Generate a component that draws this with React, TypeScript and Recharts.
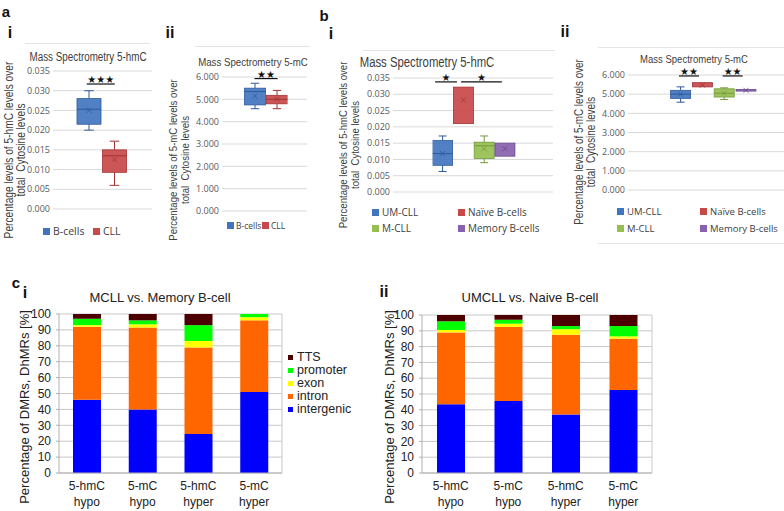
import React from "react";
import { BarChart, Bar, XAxis, YAxis, CartesianGrid, ReferenceLine } from "recharts";

// panel a: B-cells vs CLL
const aGroups = ["B-cells", "CLL"];
const aHmcMin = [0.02, 0.006];
const aHmcQ1 = [0.0215, 0.0093];
const aHmcMedian = [0.0253, 0.0135];
const aHmcQ3 = [0.028, 0.015];
const aHmcMax = [0.03, 0.0172];
const aHmcMean = [0.025, 0.0125];

const aMcMin = [4.58, 4.58];
const aMcQ1 = [4.75, 4.8];
const aMcMedian = [5.35, 5.0];
const aMcQ3 = [5.5, 5.18];
const aMcMax = [5.72, 5.4];
const aMcMean = [5.15, 5.0];

// panel b: subgroups
const bGroups = ["UM-CLL", "Naïve B-cells", "M-CLL", "Memory B-cells"];
const bHmcMin = [0.0063, 0.021, 0.009, 0.011];
const bHmcQ1 = [0.0082, 0.021, 0.0103, 0.011];
const bHmcMedian = [0.0118, null, 0.0142, null];
const bHmcQ3 = [0.0158, 0.0322, 0.0153, 0.015];
const bHmcMax = [0.0172, 0.0322, 0.0172, 0.015];
const bHmcMean = [0.0118, 0.0283, 0.0133, 0.0133];

const bMcMin = [4.58, 5.38, 4.72, 5.16];
const bMcQ1 = [4.78, 5.38, 4.85, 5.16];
const bMcMedian = [5.0, null, 5.05, null];
const bMcQ3 = [5.2, 5.6, 5.28, 5.24];
const bMcMax = [5.38, 5.6, 5.33, 5.24];
const bMcMean = [5.0, 5.47, 5.05, 5.2];

// significance bars (x in box index units, y in data units)
const aHmcSigFrom = [-0.08];
const aHmcSigTo = [1.02];
const aHmcSigY = [0.0317];
const aHmcSigStars = ["★★★"];
const aMcSigFrom = [0.0];
const aMcSigTo = [1.05];
const aMcSigY = [5.93];
const aMcSigStars = ["★★"];
const bHmcSigFrom = [-0.38, 0.87];
const bHmcSigTo = [0.67, 2.83];
const bHmcSigY = [0.0338, 0.0338];
const bHmcSigStars = ["★", "★"];
const bMcSigFrom = [-0.07, 1.93];
const bMcSigTo = [0.85, 2.85];
const bMcSigY = [5.95, 5.95];
const bMcSigStars = ["★★", "★★"];

const hmcTicks = [0, 0.005, 0.01, 0.015, 0.02, 0.025, 0.03, 0.035];
const mcTicks = [0, 1, 2, 3, 4, 5, 6];

// panel c: genomic distribution
const cCats = ["5-hmC hypo", "5-mC hypo", "5-hmC hyper", "5-mC hyper"];
const cSeries = ["intergenic", "intron", "exon", "promoter", "TTS"];
const cMemIntergenic = [46, 40, 24.5, 51];
const cMemIntron = [46, 51.5, 54.5, 45];
const cMemExon = [1, 2, 4, 2];
const cMemPromoter = [4, 2.5, 10, 2];
const cMemTts = [3, 4, 7, 0];
const cNaiIntergenic = [43.5, 45.5, 37, 52.5];
const cNaiIntron = [45.5, 47, 50.5, 32.5];
const cNaiExon = [1.5, 2, 3.5, 1.5];
const cNaiPromoter = [5.5, 2.5, 2, 6.5];
const cNaiTts = [4, 3, 7, 7];
const cTicks = [0, 10, 20, 30, 40, 50, 60, 70, 80, 90, 100];

const boxColors = ["#4275c0", "#c9494a", "#95bf4f", "#8862ae"];
const boxEdges = ["#2f5a9a", "#a13333", "#74993a", "#674690"];
const cColors = ["#0000ff", "#ff6600", "#ffff00", "#00ff00", "#4d0000"];

const arial = "'Liberation Sans', Arial, sans-serif";
const ui = "'Open Sans', 'Noto Sans', sans-serif";

function Note({ cx, cy, rotate, squeeze, style, children }: any) {
  let tf = "translate(-50%, -50%)";
  if (rotate) tf += " rotate(-90deg)";
  if (squeeze) tf += ` scaleX(${squeeze})`;
  return (
    <div
      style={{
        position: "absolute",
        left: cx,
        top: cy,
        transform: tf,
        whiteSpace: "nowrap",
        textAlign: "center",
        ...style,
      }}
    >
      {children}
    </div>
  );
}

function HLine({ x1, x2, y }: any) {
  return <div style={{ position: "absolute", left: x1, top: y, width: x2 - x1, height: 1, background: "#e4e4e4" }} />;
}

function makeBoxShape(groups: string[]) {
  return (p: any) => {
    const { x, y, width, height, payload } = p;
    const i = groups.indexOf(payload.name);
    const c = boxColors[i];
    const e = boxEdges[i];
    const top = Math.min(y, y + height);
    const bot = Math.max(y, y + height);
    const span = payload.max - payload.min;
    const py = (v: number) => (span ? bot - ((bot - top) * (v - payload.min)) / span : top);
    const cx = x + width / 2;
    const cap = width * 0.2;
    const yq3 = py(payload.q3);
    const yq1 = py(payload.q1);
    const ym = py(payload.mean);
    return (
      <g>
        {payload.max > payload.q3 && (
          <g stroke={e} strokeWidth={1}>
            <line x1={cx} x2={cx} y1={py(payload.max)} y2={yq3} />
            <line x1={cx - cap} x2={cx + cap} y1={py(payload.max)} y2={py(payload.max)} />
          </g>
        )}
        {payload.min < payload.q1 && (
          <g stroke={e} strokeWidth={1}>
            <line x1={cx} x2={cx} y1={yq1} y2={py(payload.min)} />
            <line x1={cx - cap} x2={cx + cap} y1={py(payload.min)} y2={py(payload.min)} />
          </g>
        )}
        <rect x={x} y={yq3} width={width} height={Math.max(yq1 - yq3, 1.5)} fill={c} fillOpacity={0.92} stroke={e} strokeWidth={0.8} />
        {payload.median != null && (
          <line x1={x} x2={x + width} y1={py(payload.median)} y2={py(payload.median)} stroke={e} strokeWidth={1} />
        )}
        <g stroke={e} strokeWidth={0.8}>
          <line x1={cx - 2.5} x2={cx + 2.5} y1={ym - 2.5} y2={ym + 2.5} />
          <line x1={cx - 2.5} x2={cx + 2.5} y1={ym + 2.5} y2={ym - 2.5} />
        </g>
      </g>
    );
  };
}

function BoxPanel(props: any) {
  const { left, top, width, height, margin, yWidth, padL, padR, barSize, groups, stats, yMax, yTicks, sig } = props;
  const rows = groups.map((name: string, i: number) => ({
    name,
    pos: i,
    min: stats.min[i],
    q1: stats.q1[i],
    median: stats.median[i],
    q3: stats.q3[i],
    max: stats.max[i],
    mean: stats.mean[i],
  }));
  return (
    <div style={{ position: "absolute", left, top }}>
      <BarChart width={width} height={height} data={rows} margin={margin}>
        <CartesianGrid vertical={false} stroke="#d9d9d9" />
        <XAxis
          type="number"
          dataKey="pos"
          domain={[-0.5, groups.length - 0.5]}
          padding={{ left: padL, right: padR }}
          allowDataOverflow
          hide
        />
        <YAxis
          width={yWidth}
          domain={[0, yMax]}
          ticks={yTicks}
          interval={0}
          tickFormatter={(v: number) => v.toFixed(3)}
          axisLine={false}
          tickLine={false}
          tickSize={0}
          tickMargin={3}
          tick={{ fontSize: 9, fill: "#595959", fontFamily: ui }}
        />
        <Bar
          dataKey={(d: any) => [d.min, d.max]}
          barSize={barSize}
          fill="#4275c0"
          isAnimationActive={false}
          shape={makeBoxShape(groups)}
        />
        {sig.from.map((f: number, k: number) => (
          <ReferenceLine
            key={k}
            segment={[
              { x: f, y: sig.y[k] },
              { x: sig.to[k], y: sig.y[k] },
            ]}
            stroke="#111"
            strokeWidth={1.2}
            ifOverflow="visible"
            label={{ value: sig.stars[k], position: "top", fontSize: 10, fill: "#111", offset: 1, fontFamily: "'DejaVu Sans'" }}
          />
        ))}
      </BarChart>
    </div>
  );
}

function BoxLegend({ items, colors, size }: any) {
  return (
    <>
      {items.map((it: any, k: number) => (
        <div key={k} style={{ position: "absolute", left: it.x, top: it.y - 7, height: 14, display: "flex", alignItems: "center", fontFamily: ui, fontSize: size, color: "#404040", whiteSpace: "nowrap" }}>
          <span style={{ display: "inline-block", width: 7, height: 7, background: colors[k], marginRight: it.gap }} />
          {it.label}
        </div>
      ))}
    </>
  );
}

function CatTick({ x, y, payload }: any) {
  const parts = String(payload.value).split(" ");
  return (
    <text x={x} y={y} textAnchor="middle" fontSize={12} fill="#222" fontFamily={arial}>
      <tspan x={x} dy="0.71em">{parts[0]}</tspan>
      <tspan x={x} dy="1.4em">{parts[1]}</tspan>
    </text>
  );
}

function StackPanel({ left, top, width, height, margin, yWidth, vals }: any) {
  const rows = cCats.map((name, i) => {
    const r: any = { name };
    cSeries.forEach((s, k) => (r[s] = vals[k][i]));
    return r;
  });
  return (
    <div style={{ position: "absolute", left, top }}>
      <BarChart width={width} height={height} data={rows} margin={margin}>
        <CartesianGrid vertical={false} stroke="#c8c8c8" />
        <XAxis dataKey="name" interval={0} height={38} tick={<CatTick />} axisLine={{ stroke: "#b0b0b0" }} tickLine={false} />
        <YAxis
          width={yWidth}
          domain={[0, 100]}
          ticks={cTicks}
          interval={0}
          axisLine={{ stroke: "#b0b0b0" }}
          tickLine={{ stroke: "#b0b0b0" }}
          tickSize={3}
          tickMargin={5}
          tick={{ fontSize: 12, fill: "#222", fontFamily: arial }}
        />
        <YAxis yAxisId="r" orientation="right" width={1} domain={[0, 100]} tick={false} tickLine={false} axisLine={{ stroke: "#c8c8c8" }} />
        {cSeries.map((s, k) => (
          <Bar key={s} dataKey={s} stackId="a" fill={cColors[k]} barSize={28} isAnimationActive={false} />
        ))}
      </BarChart>
    </div>
  );
}

export default function App() {
  const letter = { fontFamily: arial, fontWeight: 700, fontSize: 15, color: "#111" };
  const roman = { fontFamily: arial, fontWeight: 700, fontSize: 16, color: "#111" };
  const title = { fontFamily: arial, fontSize: 12, color: "#404040" };
  const ylab = { fontFamily: arial, fontSize: 12, color: "#404040", lineHeight: "11.5px" };
  const cText = { fontFamily: arial, color: "#222" };
  return (
    <div style={{ position: "absolute", left: 0, top: 0, width: 784, height: 511, background: "#fff", overflow: "hidden" }}>
      <Note cx={6} cy={11} style={letter}>a</Note>
      <Note cx={10} cy={33} style={roman}>i</Note>
      <Note cx={170} cy={33} style={roman}>ii</Note>
      <Note cx={324} cy={15} style={letter}>b</Note>
      <Note cx={331} cy={34} style={roman}>i</Note>
      <Note cx={565} cy={32} style={roman}>ii</Note>
      <Note cx={16} cy={282} style={letter}>c</Note>
      <Note cx={25} cy={293} style={roman}>i</Note>
      <Note cx={384} cy={292} style={roman}>ii</Note>

      <HLine x1={25} x2={150} y={43} />
      <HLine x1={195} x2={310} y={46} />
      <HLine x1={363} x2={555} y={50} />
      <HLine x1={598} x2={784} y={47} />
      <HLine x1={598} x2={784} y={243} />

      {/* a i */}
      <Note cx={88} cy={57} squeeze={0.82} style={title}>Mass Spectrometry 5-hmC</Note>
      <Note cx={15} cy={150} rotate squeeze={0.82} style={{ ...ylab, fontSize: 12.4 }}>
        Percentage levels of 5-hmC levels over
        <br />
        total&nbsp;&nbsp;Cytosine levels
      </Note>
      <BoxPanel
        left={0}
        top={45}
        width={155}
        height={175}
        margin={{ top: 26, right: 3, left: 0, bottom: 11 }}
        yWidth={53}
        padL={23}
        padR={25}
        barSize={24}
        groups={aGroups}
        stats={{ min: aHmcMin, q1: aHmcQ1, median: aHmcMedian, q3: aHmcQ3, max: aHmcMax, mean: aHmcMean }}
        yMax={0.035}
        yTicks={hmcTicks}
        sig={{ from: aHmcSigFrom, to: aHmcSigTo, y: aHmcSigY, stars: aHmcSigStars }}
      />
      <BoxLegend
        colors={boxColors}
        size={10.5}
        items={[
          { label: aGroups[0], x: 43, y: 231, gap: 3 },
          { label: aGroups[1], x: 93, y: 231, gap: 3 },
        ]}
      />

      {/* a ii */}
      <Note cx={253} cy={62} squeeze={0.82} style={{ ...title, fontSize: 11.8 }}>Mass Spectrometry 5-mC</Note>
      <Note cx={178} cy={160} rotate squeeze={0.82} style={{ ...ylab, fontSize: 11.7 }}>
        Percentage levels of 5-mC levels over
        <br />
        total&nbsp;&nbsp;Cytosine levels
      </Note>
      <BoxPanel
        left={165}
        top={45}
        width={145}
        height={175}
        margin={{ top: 32, right: 3, left: 0, bottom: 9 }}
        yWidth={57}
        padL={21.5}
        padR={19.5}
        barSize={21}
        groups={aGroups}
        stats={{ min: aMcMin, q1: aMcQ1, median: aMcMedian, q3: aMcQ3, max: aMcMax, mean: aMcMean }}
        yMax={6}
        yTicks={mcTicks}
        sig={{ from: aMcSigFrom, to: aMcSigTo, y: aMcSigY, stars: aMcSigStars }}
      />
      <BoxLegend
        colors={boxColors}
        size={8.5}
        items={[
          { label: aGroups[0], x: 227, y: 225, gap: 2 },
          { label: aGroups[1], x: 262, y: 225, gap: 2 },
        ]}
      />

      {/* b i */}
      <Note cx={427} cy={62} squeeze={0.82} style={{ ...title, fontSize: 13.8 }}>Mass Spectrometry 5-hmC</Note>
      <Note cx={348} cy={145} rotate squeeze={0.82} style={{ ...ylab, fontSize: 11.7 }}>
        Percentage levels of 5-hmC levels over
        <br />
        total&nbsp;&nbsp;Cytosine levels
      </Note>
      <BoxPanel
        left={335}
        top={45}
        width={222}
        height={160}
        margin={{ top: 33, right: 4, left: 0, bottom: 13 }}
        yWidth={58}
        padL={39.6}
        padR={37.2}
        barSize={20}
        groups={bGroups}
        stats={{ min: bHmcMin, q1: bHmcQ1, median: bHmcMedian, q3: bHmcQ3, max: bHmcMax, mean: bHmcMean }}
        yMax={0.035}
        yTicks={hmcTicks}
        sig={{ from: bHmcSigFrom, to: bHmcSigTo, y: bHmcSigY, stars: bHmcSigStars }}
      />
      <BoxLegend
        colors={boxColors}
        size={10}
        items={[
          { label: bGroups[0], x: 372, y: 212, gap: 3 },
          { label: bGroups[1], x: 458, y: 212, gap: 3 },
          { label: bGroups[2], x: 372, y: 228, gap: 3 },
          { label: bGroups[3], x: 458, y: 228, gap: 3 },
        ]}
      />

      {/* b ii */}
      <Note cx={694} cy={58} squeeze={0.82} style={{ ...title, fontSize: 11.6 }}>Mass Spectrometry 5-mC</Note>
      <Note cx={585} cy={142} rotate squeeze={0.82} style={ylab}>
        Percentage levels of 5-mC levels over
        <br />
        total&nbsp;&nbsp;Cytosine levels
      </Note>
      <BoxPanel
        left={570}
        top={45}
        width={214}
        height={160}
        margin={{ top: 30, right: 0, left: 0, bottom: 15 }}
        yWidth={58}
        padL={41.6}
        padR={27.2}
        barSize={20}
        groups={bGroups}
        stats={{ min: bMcMin, q1: bMcQ1, median: bMcMedian, q3: bMcQ3, max: bMcMax, mean: bMcMean }}
        yMax={6}
        yTicks={mcTicks}
        sig={{ from: bMcSigFrom, to: bMcSigTo, y: bMcSigY, stars: bMcSigStars }}
      />
      <BoxLegend
        colors={boxColors}
        size={9.5}
        items={[
          { label: bGroups[0], x: 617, y: 211, gap: 3 },
          { label: bGroups[1], x: 700, y: 211, gap: 3 },
          { label: bGroups[2], x: 617, y: 228, gap: 3 },
          { label: bGroups[3], x: 700, y: 228, gap: 3 },
        ]}
      />

      {/* c i */}
      <Note cx={160} cy={297} style={{ ...cText, fontSize: 13 }}>MCLL vs. Memory B-cell</Note>
      <Note cx={24} cy={407} rotate style={{ ...cText, fontSize: 13 }}>Percentage of DMRs, DhMRs [%]</Note>
      <StackPanel
        left={0}
        top={290}
        width={300}
        height={221}
        margin={{ top: 24, right: 17, left: 0, bottom: 0 }}
        yWidth={59}
        vals={[cMemIntergenic, cMemIntron, cMemExon, cMemPromoter, cMemTts]}
      />
      {cSeries
        .map((s, k) => ({ s, k }))
        .reverse()
        .map(({ s, k }, r) => (
          <div key={s} style={{ position: "absolute", left: 288, top: 351 + r * 13, height: 13, lineHeight: "13px", display: "flex", alignItems: "center", fontFamily: arial, fontSize: 12.5, color: "#222" }}>
            <span style={{ display: "inline-block", width: 5, height: 5, background: cColors[k], marginRight: 4 }} />
            {s}
          </div>
        ))}

      {/* c ii */}
      <Note cx={530} cy={297} style={{ ...cText, fontSize: 13 }}>UMCLL vs. Naive B-cell</Note>
      <Note cx={389} cy={407} rotate style={{ ...cText, fontSize: 13 }}>Percentage of DMRs, DhMRs [%]</Note>
      <StackPanel
        left={385}
        top={290}
        width={290}
        height={221}
        margin={{ top: 25, right: 22, left: 0, bottom: 0 }}
        yWidth={37}
        vals={[cNaiIntergenic, cNaiIntron, cNaiExon, cNaiPromoter, cNaiTts]}
      />
    </div>
  );
}
